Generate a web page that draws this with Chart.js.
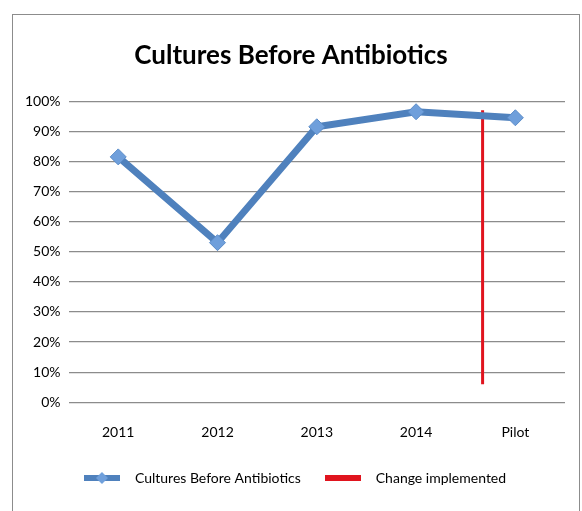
<!DOCTYPE html>
<html>
<head>
<meta charset="utf-8">
<script src="https://cdn.jsdelivr.net/npm/chart.js@4"></script>
<style>
  body { margin: 0; background: #fff; }
  #box { position: absolute; left: 12px; top: 14px; width: 566px; height: 500px; border: 1px solid #8c8c8c; border-bottom: none; }
</style>
</head>
<body>
<div id="box"><canvas id="myChart" width="566" height="500"></canvas></div>
<script>
var years = ['2011', '2012', '2013', '2014', 'Pilot'];
var cultures = [81.5, 53, 91.5, 96.5, 94.5];
// red marker between 2014 and Pilot
var changeAt = [3.67, 3.67];
var changeSpan = [97, 6];

var blue = '#4f81bd';
var red = '#e0141e';

// little legend icons: thick line, blue one with a diamond
function legendIcon(color, diamond) {
    var c = document.createElement('canvas');
    c.width = 36; c.height = 16;
    var g = c.getContext('2d');
    g.strokeStyle = color;
    g.lineWidth = 6;
    g.beginPath(); g.moveTo(0, 8); g.lineTo(36, 8); g.stroke();
    if (diamond) {
        g.fillStyle = '#6f9fdb';
        g.beginPath(); g.moveTo(18, 2); g.lineTo(24, 8); g.lineTo(18, 14); g.lineTo(12, 8); g.closePath(); g.fill();
    }
    return c;
}
var icons = [legendIcon(blue, true), legendIcon(red, false)];

var ctx = document.getElementById('myChart').getContext('2d');
var myChart = new Chart(ctx, {
    type: 'line',
    data: {
        labels: years,
        datasets: [{
            label: 'Cultures Before Antibiotics',
            data: cultures,
            borderColor: blue,
            backgroundColor: blue,
            borderWidth: 7,
            pointStyle: 'rectRot',
            pointRadius: 8,
            pointBackgroundColor: '#6f9fdb',
            pointBorderColor: '#5b8cc8',
            pointBorderWidth: 1,
            tension: 0
        },
        {
            label: 'Change implemented',
            data: changeAt.map(function (x, i) { return { x: x, y: changeSpan[i] }; }),
            xAxisID: 'x2',
            borderColor: red,
            backgroundColor: red,
            borderWidth: 3,
            pointRadius: 0
        }]
    },
    options: {
        responsive: false,
        animation: false,
        layout: { padding: { left: 4, right: 14, top: 8, bottom: 20 } },
        plugins: {
            title: {
                display: true,
                text: 'Cultures Before Antibiotics',
                color: '#000',
                font: { family: 'Lato', size: 26, weight: 'bold' },
                padding: { top: 17, bottom: 30 }
            },
            legend: {
                position: 'bottom',
                labels: {
                    usePointStyle: true,
                    pointStyleWidth: 52,
                    padding: 16,
                    color: '#000',
                    font: { family: 'Lato', size: 14 },
                    generateLabels: function (chart) {
                        var items = Chart.defaults.plugins.legend.labels.generateLabels(chart);
                        items.forEach(function (it, i) { it.pointStyle = icons[i]; });
                        return items;
                    }
                }
            },
            tooltip: { enabled: false }
        },
        scales: {
            x: {
                offset: true,
                grid: { display: false },
                border: { display: false },
                ticks: { color: '#000', padding: 14, font: { family: 'Lato', size: 14 } }
            },
            x2: {
                type: 'linear',
                display: false,
                min: -0.5,
                max: 4.5
            },
            y: {
                min: 0,
                max: 100,
                ticks: {
                    stepSize: 10,
                    color: '#000',
                    padding: 8,
                    font: { family: 'Lato', size: 14 },
                    callback: function (v) { return v + '%'; }
                },
                grid: { color: '#8c8c8c', lineWidth: 1.2, drawTicks: false },
                border: { display: false }
            }
        }
    }
});
</script>
</body>
</html>
